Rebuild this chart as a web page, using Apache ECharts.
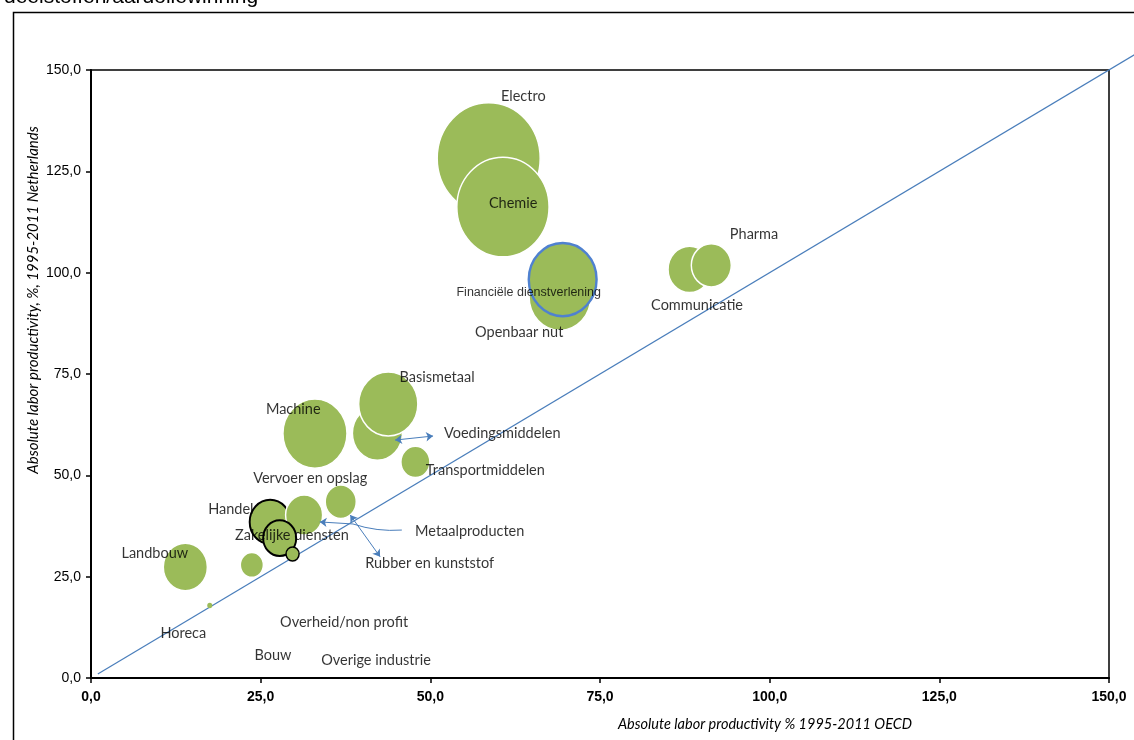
<!DOCTYPE html>
<html>
<head>
<meta charset="utf-8">
<script src="https://cdn.jsdelivr.net/npm/echarts@6/dist/echarts.min.js"></script>
<style>
html,body{margin:0;padding:0;background:#fff;}
#c{width:1134px;height:740px;}
</style>
</head>
<body>
<div id="c"></div>
<script>
// Bubble data (x = OECD %, y = Netherlands %, size = relative bubble area)
const sectors = ['Electro','Chemie','Openbaar nut','Financiële dienstverlening','Communicatie','Pharma','Voedingsmiddelen','Basismetaal','Machine','Transportmiddelen','Vervoer en opslag','Handel','Metaalproducten','Zakelijke diensten','Rubber en kunststof','Landbouw','Bouw','Horeca'];
const xValues = [58.6, 60.7, 69.1, 69.5, 88.2, 91.4, 42.2, 43.8, 33.0, 47.8, 36.8, 26.4, 31.4, 27.8, 29.7, 13.9, 23.7, 17.5];
const yValues = [128.2, 116.2, 94.0, 98.3, 100.8, 101.8, 60.4, 67.6, 60.3, 53.3, 43.5, 38.5, 40.2, 34.5, 30.6, 27.4, 27.9, 17.9];
const sizes   = [106, 85, 38, 46, 18.5, 16, 25, 35, 41, 8.4, 9.6, 16.8, 13.7, 10.9, 1.7, 19.4, 5.3, 0.25];

// Data label anchors (in axis units)
const labelTexts = ['Electro','Chemie','Financiële dienstverlening','Openbaar nut','Pharma','Communicatie','Basismetaal','Machine','Voedingsmiddelen','Transportmiddelen','Vervoer en opslag','Handel','Zakelijke diensten','Metaalproducten','Landbouw','Rubber en kunststof','Horeca','Overheid/non profit','Bouw','Overige industrie'];
const labelX = [63.7, 62.2, 64.5, 63.1, 97.7, 89.3, 51.0, 29.8, 60.6, 58.1, 32.3, 20.6, 29.6, 55.8, 9.4, 49.9, 13.6, 37.3, 26.8, 42.0];
const labelY = [143.4, 117.2, 95.2, 85.4, 109.5, 92.0, 74.3, 66.4, 60.4, 51.3, 49.3, 41.7, 35.3, 36.3, 30.8, 28.4, 11.1, 13.8, 5.7, 4.4];

// Leader arrows (axis units): [start, end]
const arrowVoeding = [[44.8, 58.7], [50.4, 59.7]];
const arrowMetaalTail = [[45.8, 36.5], [38.6, 38.0]];
const arrowMetaalHead = [[38.6, 38.0], [33.7, 38.5]];
const arrowRubber = [[38.2, 40.2], [42.6, 29.9]];

// Diagonal reference line
const diagonal = [[1, 1], [160, 160]];

// Axis ticks
const axisMin = 0, axisMax = 150, axisStep = 25;

const green = '#9BBB59';
const blue = '#4A7EBB';
const borderStyles = {
  'Handel': {borderColor: '#000', borderWidth: 2},
  'Zakelijke diensten': {borderColor: '#000', borderWidth: 2},
  'Rubber en kunststof': {borderColor: '#000', borderWidth: 1.5},
  'Financiële dienstverlening': {borderColor: '#4F81D0', borderWidth: 2.5},
  'Horeca': {borderWidth: 0}
};

const bubbleData = sectors.map((n, i) => ({
  name: n,
  value: [xValues[i], yValues[i], sizes[i]],
  itemStyle: Object.assign({color: green, opacity: 1, borderColor: '#fff', borderWidth: 1.5}, borderStyles[n] || {})
}));

const labelData = labelTexts.map((t, i) => {
  const d = {name: t, value: [labelX[i], labelY[i]]};
  if (t === 'Financiële dienstverlening') d.label = {fontFamily: '"Liberation Sans", Arial', fontSize: 12.5};
  return d;
});

const fmt = v => v.toFixed(1).replace('.', ',');

const chart = echarts.init(document.getElementById('c'), null, {renderer: 'canvas'});
chart.setOption({
  animation: false,
  backgroundColor: '#fff',
  grid: {left: 91, right: 25, top: 70, bottom: 62, show: true, borderColor: '#000', borderWidth: 1.5, backgroundColor: 'transparent'},
  xAxis: {
    type: 'value', min: axisMin, max: axisMax, interval: axisStep,
    splitLine: {show: false},
    axisLine: {onZero: false, lineStyle: {color: '#000', width: 2}},
    axisTick: {lineStyle: {color: '#000', width: 1.5}, length: 5},
    axisLabel: {formatter: fmt, color: '#000', fontFamily: '"Liberation Sans", Arial', fontWeight: 'bold', fontSize: 14, margin: 12}
  },
  yAxis: {
    type: 'value', min: axisMin, max: axisMax, interval: axisStep,
    splitLine: {show: false},
    axisLine: {onZero: false, lineStyle: {color: '#000', width: 2}},
    axisTick: {lineStyle: {color: '#000', width: 1.5}, length: 5},
    axisLabel: {formatter: fmt, color: '#000', fontFamily: '"Liberation Sans", Arial', fontSize: 14, margin: 10}
  },
  graphic: [
    {type: 'rect', left: 11, top: 10, shape: {x: 0, y: 0, width: 1200, height: 800}, style: {fill: 'none', stroke: '#000', lineWidth: 1.5}, silent: true, z: -10},
    {type: 'text', left: 4, top: -13, style: {text: 'deelstoffen/aardoliewinning', font: '21px "Liberation Sans", Arial', fill: '#000'}, z: 10},
    {type: 'text', x: 33, y: 300, rotation: Math.PI / 2, style: {text: 'Absolute labor productivity, %, 1995-2011 Netherlands', font: 'italic 15px Lato, "Open Sans"', fill: '#000', align: 'center', verticalAlign: 'middle'}, z: 10},
    {type: 'text', x: 765, y: 724, style: {text: 'Absolute labor productivity % 1995-2011 OECD', font: 'italic 14.5px Lato, "Open Sans"', fill: '#000', align: 'center', verticalAlign: 'middle'}, z: 10}
  ],
  series: [
    {
      type: 'lines', coordinateSystem: 'cartesian2d', clip: false, silent: true, z: 1,
      symbol: 'none', lineStyle: {color: blue, width: 1.2, opacity: 1},
      data: [{coords: diagonal}]
    },
    {
      type: 'scatter', data: bubbleData, z: 2,
      symbolSize: v => { const d = 10 * Math.sqrt(v[2]); return [d, d * 1.08]; },
      emphasis: {disabled: true}
    },
    {
      type: 'lines', coordinateSystem: 'cartesian2d', z: 3, silent: true,
      symbol: ['arrow', 'arrow'], symbolSize: 7,
      lineStyle: {color: blue, width: 1, opacity: 1},
      data: [{coords: arrowVoeding}, {coords: arrowRubber}]
    },
    {
      type: 'lines', coordinateSystem: 'cartesian2d', z: 3, silent: true,
      symbol: ['none', 'none'],
      lineStyle: {color: blue, width: 1, opacity: 1, curveness: 0.1},
      data: [{coords: arrowMetaalTail}]
    },
    {
      type: 'lines', coordinateSystem: 'cartesian2d', z: 3, silent: true,
      symbol: ['none', 'arrow'], symbolSize: 7,
      lineStyle: {color: blue, width: 1, opacity: 1},
      data: [{coords: arrowMetaalHead}]
    },
    {
      type: 'scatter', data: labelData, symbolSize: 0, z: 5, silent: true,
      label: {
        show: true, position: 'inside', formatter: p => p.name,
        color: '#000', fontFamily: 'Lato, "Open Sans"', fontSize: 14.5
      },
      labelLayout: {hideOverlap: false}
    }
  ]
});
</script>
</body>
</html>
